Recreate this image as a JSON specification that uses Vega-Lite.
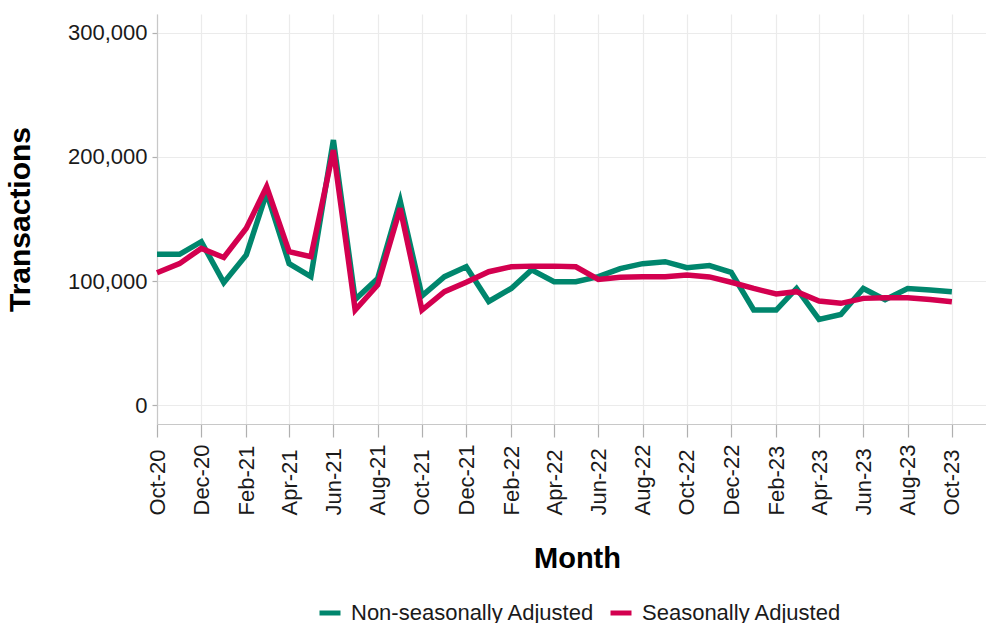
{
  "$schema": "https://vega.github.io/schema/vega-lite/v6.json",
  "width": 829,
  "height": 410,
  "autosize": {"type": "none"},
  "padding": {"left": 157, "top": 14, "right": 0, "bottom": 199},
  "background": "white",
  "config": {
    "view": {"stroke": null},
    "font": "Liberation Sans",
    "axis": {
      "gridColor": "#EBEBEB",
      "gridWidth": 1.2,
      "domainColor": "#C8C8C8",
      "domainWidth": 1.2,
      "tickColor": "#B0B0B0",
      "tickWidth": 1.2,
      "labelFont": "Liberation Sans",
      "labelColor": "#1A1A1A",
      "labelFontSize": 22,
      "titleFont": "Liberation Sans",
      "titleColor": "#000000",
      "titleFontWeight": "bold"
    },
    "legend": {"labelFont": "Liberation Sans", "labelColor": "#1A1A1A"}
  },
  "data": {
    "values": [
      {"month": "2020-10-01", "series": "Non-seasonally Adjusted", "value": 121500},
      {"month": "2020-11-01", "series": "Non-seasonally Adjusted", "value": 121500},
      {"month": "2020-12-01", "series": "Non-seasonally Adjusted", "value": 131700},
      {"month": "2021-01-01", "series": "Non-seasonally Adjusted", "value": 98700},
      {"month": "2021-02-01", "series": "Non-seasonally Adjusted", "value": 121000},
      {"month": "2021-03-01", "series": "Non-seasonally Adjusted", "value": 171000},
      {"month": "2021-04-01", "series": "Non-seasonally Adjusted", "value": 114000},
      {"month": "2021-05-01", "series": "Non-seasonally Adjusted", "value": 103500},
      {"month": "2021-06-01", "series": "Non-seasonally Adjusted", "value": 213700},
      {"month": "2021-07-01", "series": "Non-seasonally Adjusted", "value": 85000},
      {"month": "2021-08-01", "series": "Non-seasonally Adjusted", "value": 102000},
      {"month": "2021-09-01", "series": "Non-seasonally Adjusted", "value": 164500},
      {"month": "2021-10-01", "series": "Non-seasonally Adjusted", "value": 88000},
      {"month": "2021-11-01", "series": "Non-seasonally Adjusted", "value": 103500},
      {"month": "2021-12-01", "series": "Non-seasonally Adjusted", "value": 111500},
      {"month": "2022-01-01", "series": "Non-seasonally Adjusted", "value": 83500},
      {"month": "2022-02-01", "series": "Non-seasonally Adjusted", "value": 94000},
      {"month": "2022-03-01", "series": "Non-seasonally Adjusted", "value": 109000},
      {"month": "2022-04-01", "series": "Non-seasonally Adjusted", "value": 99500},
      {"month": "2022-05-01", "series": "Non-seasonally Adjusted", "value": 99500},
      {"month": "2022-06-01", "series": "Non-seasonally Adjusted", "value": 103500},
      {"month": "2022-07-01", "series": "Non-seasonally Adjusted", "value": 110000},
      {"month": "2022-08-01", "series": "Non-seasonally Adjusted", "value": 114000},
      {"month": "2022-09-01", "series": "Non-seasonally Adjusted", "value": 115600},
      {"month": "2022-10-01", "series": "Non-seasonally Adjusted", "value": 110800},
      {"month": "2022-11-01", "series": "Non-seasonally Adjusted", "value": 112400},
      {"month": "2022-12-01", "series": "Non-seasonally Adjusted", "value": 107000},
      {"month": "2023-01-01", "series": "Non-seasonally Adjusted", "value": 76600},
      {"month": "2023-02-01", "series": "Non-seasonally Adjusted", "value": 76600},
      {"month": "2023-03-01", "series": "Non-seasonally Adjusted", "value": 94000},
      {"month": "2023-04-01", "series": "Non-seasonally Adjusted", "value": 69000},
      {"month": "2023-05-01", "series": "Non-seasonally Adjusted", "value": 73000},
      {"month": "2023-06-01", "series": "Non-seasonally Adjusted", "value": 94000},
      {"month": "2023-07-01", "series": "Non-seasonally Adjusted", "value": 85000},
      {"month": "2023-08-01", "series": "Non-seasonally Adjusted", "value": 94000},
      {"month": "2023-09-01", "series": "Non-seasonally Adjusted", "value": 92700},
      {"month": "2023-10-01", "series": "Non-seasonally Adjusted", "value": 91400},
      {"month": "2020-10-01", "series": "Seasonally Adjusted", "value": 106700},
      {"month": "2020-11-01", "series": "Seasonally Adjusted", "value": 114000},
      {"month": "2020-12-01", "series": "Seasonally Adjusted", "value": 126300},
      {"month": "2021-01-01", "series": "Seasonally Adjusted", "value": 119000},
      {"month": "2021-02-01", "series": "Seasonally Adjusted", "value": 142500},
      {"month": "2021-03-01", "series": "Seasonally Adjusted", "value": 176000},
      {"month": "2021-04-01", "series": "Seasonally Adjusted", "value": 123600},
      {"month": "2021-05-01", "series": "Seasonally Adjusted", "value": 119600},
      {"month": "2021-06-01", "series": "Seasonally Adjusted", "value": 205600},
      {"month": "2021-07-01", "series": "Seasonally Adjusted", "value": 76600},
      {"month": "2021-08-01", "series": "Seasonally Adjusted", "value": 96800},
      {"month": "2021-09-01", "series": "Seasonally Adjusted", "value": 158600},
      {"month": "2021-10-01", "series": "Seasonally Adjusted", "value": 76600},
      {"month": "2021-11-01", "series": "Seasonally Adjusted", "value": 91400},
      {"month": "2021-12-01", "series": "Seasonally Adjusted", "value": 99000},
      {"month": "2022-01-01", "series": "Seasonally Adjusted", "value": 107500},
      {"month": "2022-02-01", "series": "Seasonally Adjusted", "value": 111500},
      {"month": "2022-03-01", "series": "Seasonally Adjusted", "value": 112000},
      {"month": "2022-04-01", "series": "Seasonally Adjusted", "value": 112000},
      {"month": "2022-05-01", "series": "Seasonally Adjusted", "value": 111500},
      {"month": "2022-06-01", "series": "Seasonally Adjusted", "value": 101300},
      {"month": "2022-07-01", "series": "Seasonally Adjusted", "value": 103000},
      {"month": "2022-08-01", "series": "Seasonally Adjusted", "value": 103500},
      {"month": "2022-09-01", "series": "Seasonally Adjusted", "value": 103500},
      {"month": "2022-10-01", "series": "Seasonally Adjusted", "value": 104800},
      {"month": "2022-11-01", "series": "Seasonally Adjusted", "value": 103300},
      {"month": "2022-12-01", "series": "Seasonally Adjusted", "value": 99000},
      {"month": "2023-01-01", "series": "Seasonally Adjusted", "value": 94000},
      {"month": "2023-02-01", "series": "Seasonally Adjusted", "value": 89500},
      {"month": "2023-03-01", "series": "Seasonally Adjusted", "value": 91400},
      {"month": "2023-04-01", "series": "Seasonally Adjusted", "value": 83900},
      {"month": "2023-05-01", "series": "Seasonally Adjusted", "value": 82000},
      {"month": "2023-06-01", "series": "Seasonally Adjusted", "value": 86000},
      {"month": "2023-07-01", "series": "Seasonally Adjusted", "value": 86500},
      {"month": "2023-08-01", "series": "Seasonally Adjusted", "value": 86500},
      {"month": "2023-09-01", "series": "Seasonally Adjusted", "value": 85000},
      {"month": "2023-10-01", "series": "Seasonally Adjusted", "value": 83300}
    ]
  },
  "mark": {"type": "line", "strokeWidth": 5.5, "strokeJoin": "miter", "strokeCap": "butt"},
  "encoding": {
    "x": {
      "field": "month",
      "type": "temporal",
      "scale": {"type": "utc", "domain": [{"year": 2020, "month": 10, "date": 1, "utc": true}, {"year": 2023, "month": 11, "date": 17, "utc": true}], "nice": false},
      "axis": {
        "title": "Month",
        "titleFontSize": 29,
        "titleX": 420,
        "titleY": 143,
        "titleAlign": "center",
        "titleBaseline": "alphabetic",
        "labelExpr": "['Jan','Feb','Mar','Apr','May','Jun','Jul','Aug','Sep','Oct','Nov','Dec'][utcmonth(datum.value)] + '-' + (utcyear(datum.value) - 2000)",
        "labelAngle": 270,
        "labelAlign": "left",
        "labelBaseline": "middle",
        "labelPadding": 78,
        "labelOverlap": false,
        "labelFlush": false,
        "tickSize": 13,
        "values": [
          {"year": 2020, "month": 10, "date": 1, "utc": true},
          {"year": 2020, "month": 12, "date": 1, "utc": true},
          {"year": 2021, "month": 2, "date": 1, "utc": true},
          {"year": 2021, "month": 4, "date": 1, "utc": true},
          {"year": 2021, "month": 6, "date": 1, "utc": true},
          {"year": 2021, "month": 8, "date": 1, "utc": true},
          {"year": 2021, "month": 10, "date": 1, "utc": true},
          {"year": 2021, "month": 12, "date": 1, "utc": true},
          {"year": 2022, "month": 2, "date": 1, "utc": true},
          {"year": 2022, "month": 4, "date": 1, "utc": true},
          {"year": 2022, "month": 6, "date": 1, "utc": true},
          {"year": 2022, "month": 8, "date": 1, "utc": true},
          {"year": 2022, "month": 10, "date": 1, "utc": true},
          {"year": 2022, "month": 12, "date": 1, "utc": true},
          {"year": 2023, "month": 2, "date": 1, "utc": true},
          {"year": 2023, "month": 4, "date": 1, "utc": true},
          {"year": 2023, "month": 6, "date": 1, "utc": true},
          {"year": 2023, "month": 8, "date": 1, "utc": true},
          {"year": 2023, "month": 10, "date": 1, "utc": true}
        ]
      }
    },
    "y": {
      "field": "value",
      "type": "quantitative",
      "scale": {"domain": [-15300, 315300], "nice": false, "zero": false},
      "axis": {
        "title": "Transactions",
        "titleFontSize": 30,
        "titleAngle": 270,
        "titleX": -128,
        "titleY": 205,
        "titleAlign": "center",
        "titleBaseline": "alphabetic",
        "values": [0, 100000, 200000, 300000],
        "labelExpr": "datum.value == 0 ? '0' : datum.value == 100000 ? '100,000' : datum.value == 200000 ? '200,000' : '300,000'",
        "tickSize": 5,
        "labelPadding": 5
      }
    },
    "color": {
      "field": "series",
      "type": "nominal",
      "scale": {"domain": ["Non-seasonally Adjusted", "Seasonally Adjusted"], "range": ["#00866D", "#D3004F"]},
      "legend": {
        "title": null,
        "orient": "none",
        "legendX": 160,
        "legendY": 586,
        "direction": "horizontal",
        "symbolType": "stroke",
        "symbolSize": 441,
        "symbolStrokeWidth": 5,
        "labelFontSize": 22,
        "labelLimit": 400,
        "labelOffset": 8,
        "columnPadding": 5,
        "padding": 0
      }
    }
  }
}
